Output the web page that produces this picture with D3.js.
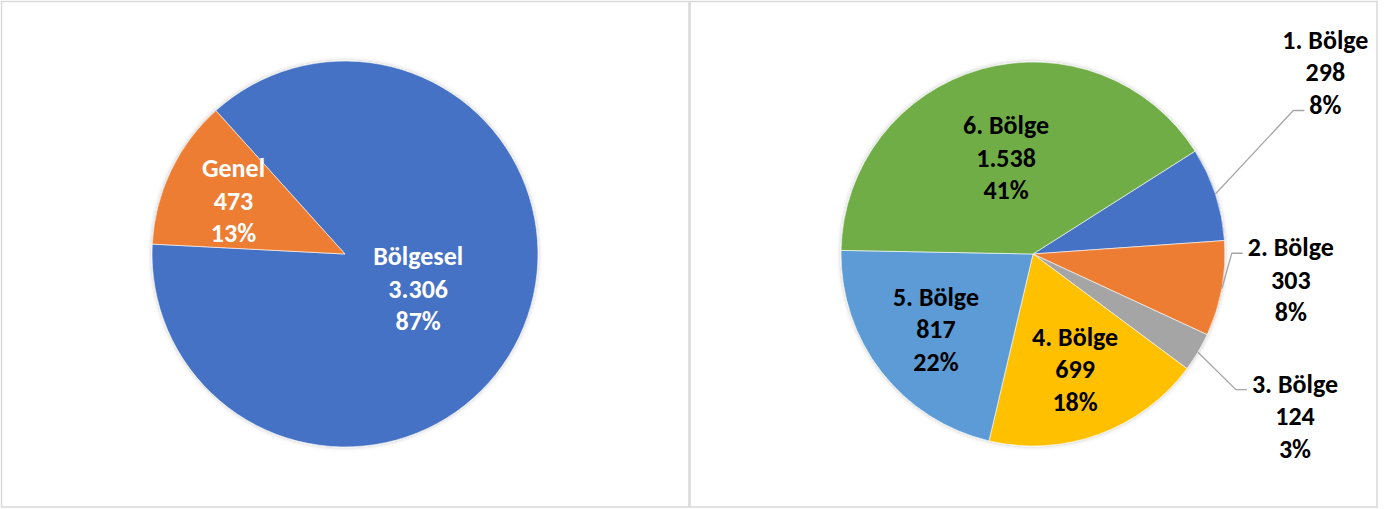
<!DOCTYPE html>
<html>
<head>
<meta charset="utf-8">
<script src="https://cdn.jsdelivr.net/npm/d3@7"></script>
<style>
  html, body { margin: 0; padding: 0; background: #fff; }
  svg text { font-family: Calibri, Carlito, Lato, sans-serif; font-weight: 700; }
</style>
</head>
<body>
<svg id="chart" width="1389" height="509"></svg>
<script>
// left pie: genel vs bölgesel
const leftNames = ["Bölgesel", "Genel"];
const leftValues = [3306, 473];
// right pie: bölge breakdown
const rightNames = ["1. Bölge", "2. Bölge", "3. Bölge", "4. Bölge", "5. Bölge", "6. Bölge"];
const rightValues = [298, 303, 124, 699, 817, 1538];

const leftColors = ["#4472C4", "#ED7D31"];
const rightColors = ["#4472C4", "#ED7D31", "#A5A5A5", "#FFC000", "#5B9BD5", "#70AD47"];

// labels that sit outside with a leader line (offset from slice edge, line the leader points at)
const outside = {
  "1. Bölge": { dx: 110, dy: -122, attach: 2 },
  "2. Bölge": { dx: 69, dy: -9, attach: 0 },
  "3. Bölge": { dx: 97, dy: 64, attach: 0 }
};

const trFormat = d3.formatLocale({ decimal: ",", thousands: ".", grouping: [3], currency: ["", " TL"] }).format(",d");
const deg = Math.PI / 180;
const lineGap = 32.5;
const fontSize = 26;

const svg = d3.select("#chart");

const defs = svg.append("defs");
defs.append("filter").attr("id", "shadow")
  .attr("x", "-10%").attr("y", "-10%").attr("width", "120%").attr("height", "120%")
  .append("feDropShadow")
  .attr("dx", 0).attr("dy", 0).attr("stdDeviation", 2)
  .attr("flood-color", "#000").attr("flood-opacity", 0.25);

// chart frames
svg.append("rect").attr("x", 1.5).attr("y", 1.5).attr("width", 687.5).attr("height", 505.5)
  .attr("fill", "none").attr("stroke", "#D9D9D9").attr("stroke-width", 1.5);
svg.append("rect").attr("x", 690).attr("y", 1.5).attr("width", 687).attr("height", 505.5)
  .attr("fill", "none").attr("stroke", "#D9D9D9").attr("stroke-width", 1.5);

function drawPie(opts) {
  const total = d3.sum(opts.values);
  const rows = opts.names.map((n, i) => ({ name: n, value: opts.values[i], color: opts.colors[i] }));

  const pie = d3.pie().value(d => d.value).sort(null)
    .startAngle(opts.start * deg).endAngle(opts.start * deg + 2 * Math.PI);
  const arc = d3.arc().innerRadius(0).outerRadius(opts.r);
  const edgeArc = d3.arc().innerRadius(opts.r).outerRadius(opts.r);

  const g = svg.append("g").attr("transform", `translate(${opts.cx},${opts.cy})`);

  g.append("g").attr("filter", "url(#shadow)")
    .selectAll("path").data(pie(rows)).enter().append("path")
    .attr("d", arc)
    .attr("fill", d => d.data.color)
    .attr("stroke", "#fff").attr("stroke-width", 0.6);

  const labels = g.selectAll("g.lbl").data(pie(rows)).enter().append("g").attr("class", "lbl");

  labels.each(function(d) {
    const frac = d.value / total;
    const sel = d3.select(this);
    const lines = [d.data.name, trFormat(d.value), Math.round(frac * 100) + "%"];
    const out = outside[d.data.name];
    let x, y;
    if (out) {
      const p = edgeArc.centroid(d);
      x = p[0] + out.dx;
      y = p[1] + out.dy;
    } else {
      const k = frac > 0.8 ? 0.42 : frac > 0.35 ? 0.52 : 0.64;
      const la = d3.arc().innerRadius(opts.r * k).outerRadius(opts.r * k);
      [x, y] = la.centroid(d);
    }
    const text = sel.append("text")
      .attr("text-anchor", "middle")
      .style("font-size", fontSize + "px")
      .style("fill", opts.textColor);
    const spans = lines.map((t, i) => text.append("tspan")
      .attr("x", x).attr("y", y + (i - 1) * lineGap)
      .attr("dominant-baseline", "central")
      .text(t));

    if (out) {
      const p = edgeArc.centroid(d);
      const w = spans[out.attach].node().getComputedTextLength();
      const ly = y + (out.attach - 1) * lineGap + 6;
      const endX = x - w / 2 - 5;
      const elbowX = endX - 11;
      sel.insert("path", "text")
        .attr("d", d3.line()([p, [elbowX, ly], [endX, ly]]))
        .attr("fill", "none")
        .attr("stroke", "#A6A6A6")
        .attr("stroke-width", 1.3);
    }
  });
}

drawPie({ names: leftNames, values: leftValues, colors: leftColors,
  cx: 345, cy: 254, r: 193, start: 318, textColor: "#fff" });
drawPie({ names: rightNames, values: rightValues, colors: rightColors,
  cx: 1033, cy: 254, r: 192, start: 57.6, textColor: "#000" });
</script>
</body>
</html>
